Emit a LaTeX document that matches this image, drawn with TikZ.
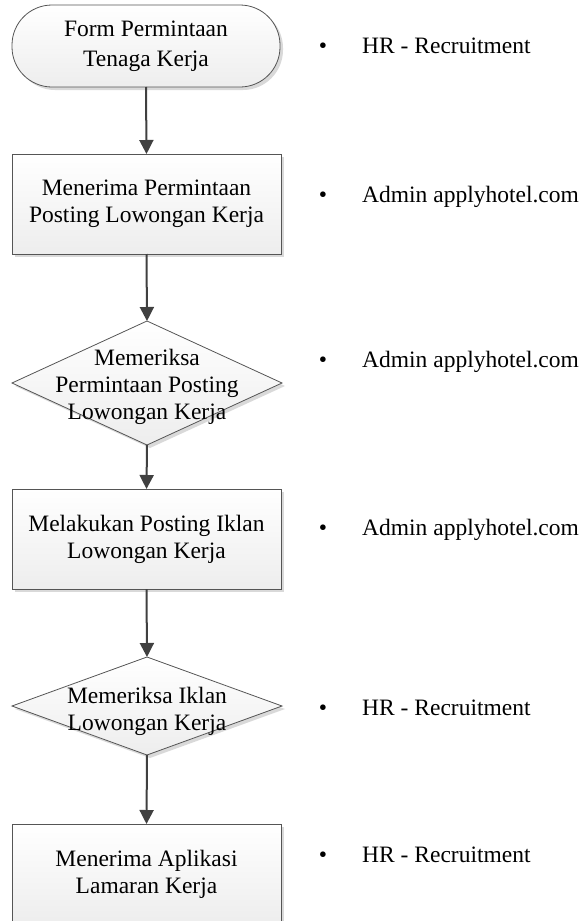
\documentclass[tikz,border=0pt]{standalone}
\usepackage{fontspec}
\setmainfont{Liberation Serif}
\usetikzlibrary{shapes.geometric,arrows.meta,shadows}
\definecolor{edge}{HTML}{555555}
\definecolor{arr}{HTML}{404040}
\tikzset{
  shapebase/.style={draw=edge, line width=0.8pt, top color=white, bottom color=black!7,
    drop shadow={shadow xshift=3pt, shadow yshift=-3pt, fill=black!15, opacity=1},
    inner sep=0pt, outer sep=0pt},
  termbox/.style={shapebase, rectangle, rounded corners=40pt, minimum width=268pt, minimum height=82pt,
    align=center, font=\fontsize{23.5}{30}\selectfont},
  procbox/.style={shapebase, rectangle, minimum width=269pt, minimum height=100pt,
    align=center, font=\fontsize{23.5}{27}\selectfont},
  decbox/.style={shapebase, diamond, aspect=2},
  dectext/.style={align=center, font=\fontsize{23.5}{27}\selectfont, inner sep=0pt},
  flowarrow/.style={draw=arr, line width=2pt, -{Triangle[length=14pt,width=14pt]}},
  bulletmark/.style={anchor=base, inner sep=0pt, font=\fontsize{23.5}{27}\selectfont},
  rolelabel/.style={anchor=base west, inner sep=0pt, font=\fontsize{23.5}{27}\selectfont}
}
\begin{document}
\begin{tikzpicture}[x=1pt,y=-1pt]
\useasboundingbox (0,0) rectangle (582,921);
\begin{scope}
\clip (0,0) rectangle (582,921);
\node[termbox] (t1) at (146,46) {Form Permintaan\\Tenaga Kerja};
\node[procbox] (b2) at (146.5,204) {Menerima Permintaan\\Posting Lowongan Kerja};
\node[decbox, minimum width=270pt, minimum height=124pt] (d3) at (147,383) {};
\node[dectext] (d3t) at (147,387) {Memeriksa\\Permintaan Posting\\Lowongan Kerja};
\node[procbox] (b4) at (146.5,539) {Melakukan Posting Iklan\\Lowongan Kerja};
\node[decbox, minimum width=270pt, minimum height=98pt] (d5) at (147,706) {};
\node[dectext] (d5t) at (147,711) {Memeriksa Iklan\\Lowongan Kerja};
\node[procbox] (b6) at (146.5,874) {Menerima Aplikasi\\Lamaran Kerja};

\draw[flowarrow] (t1.south) -- (b2.north);
\draw[flowarrow] (b2.south) -- (d3.north);
\draw[flowarrow] (d3.south) -- (b4.north);
\draw[flowarrow] (b4.south) -- (d5.north);
\draw[flowarrow] (d5.south) -- (b6.north);
\end{scope}

\node[bulletmark] (m1) at (323,53) {•};
\node[rolelabel] (r1) at (362,53) {HR - Recruitment};
\node[bulletmark] (m2) at (323,202) {•};
\node[rolelabel] (r2) at (362,202) {Admin applyhotel.com};
\node[bulletmark] (m3) at (323,367) {•};
\node[rolelabel] (r3) at (362,367) {Admin applyhotel.com};
\node[bulletmark] (m4) at (323,535) {•};
\node[rolelabel] (r4) at (362,535) {Admin applyhotel.com};
\node[bulletmark] (m5) at (323,715) {•};
\node[rolelabel] (r5) at (362,715) {HR - Recruitment};
\node[bulletmark] (m6) at (323,862) {•};
\node[rolelabel] (r6) at (362,862) {HR - Recruitment};
\end{tikzpicture}
\end{document}
